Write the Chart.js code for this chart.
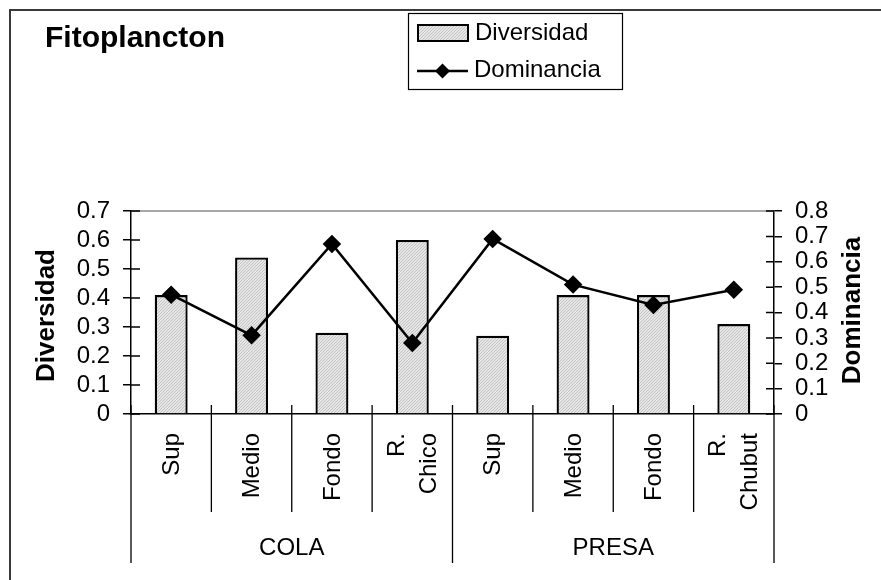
<!DOCTYPE html>
<html>
<head>
<meta charset="utf-8">
<script src="https://cdn.jsdelivr.net/npm/chart.js@4/dist/chart.umd.min.js"></script>
<style>
  html, body { margin: 0; padding: 0; background: #fff; }
  #wrap { width: 881px; height: 580px; }
</style>
</head>
<body>
<div id="wrap"><canvas id="fitoChart" width="881" height="580"></canvas></div>
<script>
// datos
const categorias = ['Sup', 'Medio', 'Fondo', ['R.', 'Chico'], 'Sup', 'Medio', 'Fondo', ['R.', 'Chubut']];
const grupos = ['COLA', 'PRESA'];
const diversidad = [0.41, 0.54, 0.28, 0.60, 0.27, 0.41, 0.41, 0.31];
const dominancia = [0.47, 0.31, 0.67, 0.28, 0.69, 0.51, 0.43, 0.49];

const FONT = "'Liberation Sans', Arial, sans-serif";

// relleno punteado de las barras
function hatch() {
  const c = document.createElement('canvas');
  c.width = 3; c.height = 3;
  const g = c.getContext('2d');
  g.fillStyle = '#e6e6e6';
  g.fillRect(0, 0, 3, 3);
  g.fillStyle = '#c4c4c4';
  for (let i = 0; i < 3; i++) g.fillRect(i, 2 - i, 1, 1);
  return g.createPattern(c, 'repeat');
}
const patron = hatch();

const extras = {
  id: 'extras',
  afterDraw(chart) {
    const ctx = chart.ctx;
    const x = chart.scales.x, y = chart.scales.y, y1 = chart.scales.y1;
    const a = chart.chartArea;
    ctx.save();

    // marco exterior
    ctx.strokeStyle = '#3a3a3a';
    ctx.lineWidth = 2;
    ctx.beginPath();
    ctx.moveTo(10, 600); ctx.lineTo(10, 10); ctx.lineTo(900, 10);
    ctx.stroke();

    // titulo
    ctx.fillStyle = '#000';
    ctx.font = 'bold 30px ' + FONT;
    ctx.textAlign = 'left';
    ctx.textBaseline = 'alphabetic';
    ctx.fillText('Fitoplancton', 45, 47);

    // linea superior del area
    ctx.strokeStyle = '#8a8a8a';
    ctx.lineWidth = 1.5;
    ctx.beginPath();
    ctx.moveTo(a.left, a.top); ctx.lineTo(a.right, a.top);
    ctx.stroke();

    // medias marcas hacia dentro
    ctx.strokeStyle = '#000';
    ctx.lineWidth = 1.5;
    ctx.beginPath();
    y.ticks.forEach(t => {
      const py = y.getPixelForValue(t.value);
      ctx.moveTo(a.left, py); ctx.lineTo(a.left + 9, py);
    });
    y1.ticks.forEach(t => {
      const py = y1.getPixelForValue(t.value);
      ctx.moveTo(a.right, py); ctx.lineTo(a.right - 8, py);
    });
    ctx.stroke();

    // separadores de categorias
    const n = categorias.length;
    const w = (x.right - x.left) / n;
    ctx.lineWidth = 1.3;
    ctx.beginPath();
    for (let k = 0; k <= n; k++) {
      const px = x.left + k * w;
      const largo = (k % 4 === 0) ? 563 : 512;
      ctx.moveTo(px, a.bottom - 9);
      ctx.lineTo(px, largo);
    }
    ctx.stroke();

    // etiquetas de categorias (giradas)
    ctx.font = '24px ' + FONT;
    ctx.textAlign = 'right';
    ctx.textBaseline = 'middle';
    categorias.forEach((c, i) => {
      const cx = x.getPixelForValue(i);
      const lineas = Array.isArray(c) ? c : [c];
      lineas.forEach((t, j) => {
        const dx = (j - (lineas.length - 1) / 2) * 32;
        ctx.save();
        ctx.translate(cx + dx + 1, 433);
        ctx.rotate(-Math.PI / 2);
        ctx.fillText(t, 0, 0);
        ctx.restore();
      });
    });

    // etiquetas de grupo
    ctx.textAlign = 'center';
    ctx.textBaseline = 'alphabetic';
    grupos.forEach((g, i) => {
      ctx.fillText(g, x.left + (i * 4 + 2) * w, 555);
    });

    // titulos de ejes
    ctx.font = 'bold 26px ' + FONT;
    ctx.textBaseline = 'middle';
    ctx.save();
    ctx.translate(47, (a.top + a.bottom) / 2 + 3);
    ctx.rotate(-Math.PI / 2);
    ctx.fillText('Diversidad', 0, 0);
    ctx.restore();
    ctx.save();
    ctx.translate(853, (a.top + a.bottom) / 2 - 2);
    ctx.rotate(-Math.PI / 2);
    ctx.fillText('Dominancia', 0, 0);
    ctx.restore();

    // leyenda
    ctx.lineWidth = 1.2;
    ctx.strokeStyle = '#000';
    ctx.strokeRect(408.5, 13.5, 214, 76);
    ctx.fillStyle = patron;
    ctx.fillRect(418, 25, 50, 16);
    ctx.lineWidth = 2;
    ctx.strokeRect(418, 25, 50, 16);
    ctx.lineWidth = 2.4;
    ctx.beginPath();
    ctx.moveTo(417, 71); ctx.lineTo(468, 71);
    ctx.stroke();
    ctx.fillStyle = '#000';
    ctx.beginPath();
    ctx.moveTo(442.5, 63.5); ctx.lineTo(450, 71); ctx.lineTo(442.5, 78.5); ctx.lineTo(435, 71);
    ctx.closePath();
    ctx.fill();
    ctx.font = '24px ' + FONT;
    ctx.textAlign = 'left';
    ctx.textBaseline = 'middle';
    ctx.fillText('Diversidad', 475, 33);
    ctx.fillText('Dominancia', 474, 70);

    ctx.restore();
  }
};

const ctx = document.getElementById('fitoChart').getContext('2d');
const chart = new Chart(ctx, {
  data: {
    labels: categorias,
    datasets: [{
      type: 'line',
      label: 'Dominancia',
      data: dominancia,
      yAxisID: 'y1',
      borderColor: '#000',
      borderWidth: 2.5,
      pointStyle: 'rectRot',
      pointRadius: 7.5,
      pointBackgroundColor: '#000',
      pointBorderColor: '#000',
      tension: 0,
      order: 0
    }, {
      type: 'bar',
      label: 'Diversidad',
      data: diversidad,
      yAxisID: 'y',
      backgroundColor: patron,
      borderColor: '#000',
      borderWidth: 2.3,
      categoryPercentage: 1,
      barPercentage: 0.41,
      order: 1
    }]
  },
  options: {
    responsive: false,
    animation: false,
    layout: { padding: { top: 211, left: 0, right: 0, bottom: 0 } },
    plugins: { legend: { display: false }, title: { display: false }, tooltip: { enabled: false } },
    scales: {
      x: {
        grid: { display: false, drawTicks: false },
        border: { display: true, color: '#000', width: 1.5 },
        ticks: { display: false },
        afterFit: s => { s.height = 166; }
      },
      y: {
        position: 'left',
        min: 0,
        max: 0.7,
        ticks: { stepSize: 0.1, autoSkip: false, color: '#000', font: { family: FONT, size: 24 }, padding: 13 },
        grid: { drawOnChartArea: false, tickLength: 8, color: '#000', lineWidth: 1.5 },
        border: { display: true, color: '#000', width: 1.5 },
        afterFit: s => { s.width = 131; }
      },
      y1: {
        position: 'right',
        min: 0,
        max: 0.8,
        ticks: { stepSize: 0.1, autoSkip: false, color: '#000', font: { family: FONT, size: 24 }, padding: 13 },
        grid: { drawOnChartArea: false, tickLength: 8, color: '#000', lineWidth: 1.5 },
        border: { display: true, color: '#000', width: 1.5 },
        afterFit: s => { s.width = 107; }
      }
    }
  },
  plugins: [extras]
});
</script>
</body>
</html>
